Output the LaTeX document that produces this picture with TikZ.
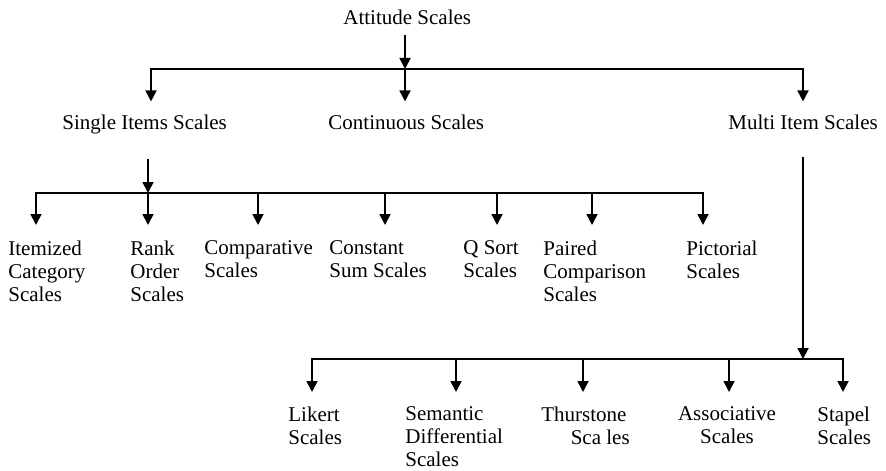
\documentclass[tikz,border=0pt]{standalone}
\usepackage{fontspec}
\setmainfont{Liberation Serif}
\usetikzlibrary{arrows.meta}
\begin{document}
\begin{tikzpicture}[x=0.5pt,y=-0.5pt,
  lbl/.style={inner sep=0pt, align=left,
    font=\fontsize{10.5pt}{11.6pt}\selectfont},
  top/.style={lbl, outer ysep=5pt},
  mid/.style={lbl, outer ysep=7pt},
  low/.style={lbl, outer ysep=7.8pt, anchor=north west},
  leaf/.style={lbl, outer ysep=7.3pt, anchor=north west},
  link/.style={line width=0.9pt},
  arr/.style={link, -{Triangle[length=5.5pt,width=5.5pt]}}]
\useasboundingbox (0,0) rectangle (886,470);

% root
\node[top, anchor=base west] (att) at (343,25) {Attitude Scales};

% second level
\node[mid, anchor=base west] (single) at (62,130) {Single Items Scales};
\node[mid, anchor=base west] (cont) at (328,130) {Continuous Scales};
\node[mid, anchor=base west] (multi) at (728,130) {Multi Item Scales};

% single item scales
\node[low] (item) at (8,225) {Itemized\\Category\\Scales};
\node[low] (rank) at (130,225) {Rank\\Order\\Scales};
\node[low] (comp) at (204,225) {Comparative\\Scales};
\node[low] (const) at (329,225) {Constant\\Sum Scales};
\node[low] (qsort) at (463,225) {Q Sort\\Scales};
\node[low] (paired) at (543,225) {Paired\\Comparison\\Scales};
\node[low] (pict) at (686,225) {Pictorial\\Scales};

% multi item scales
\node[leaf] (likert) at (288,392) {Likert\\Scales};
\node[leaf] (sem) at (405,392) {Semantic\\Differential\\Scales};
\node[leaf] (thur) at (541,392) {Thurstone\\\hspace*{1.4em}Sca les};
\node[leaf, anchor=north, align=center] (assoc) at (727,392) {Associative\\Scales};
\node[leaf] (stapel) at (817,392) {Stapel\\Scales};

% bus points
\coordinate (j0) at (405,69);
\coordinate (b0l) at (151,69);
\coordinate (b0r) at (803,69);

\coordinate (j1) at (148,193);
\coordinate (q1) at (36,193);
\coordinate (q3) at (258,193);
\coordinate (q4) at (385,193);
\coordinate (q5) at (497,193);
\coordinate (q6) at (592,193);
\coordinate (q7) at (703,193);

\coordinate (j2) at (803,359);
\coordinate (r1) at (312,359);
\coordinate (r2) at (456,359);
\coordinate (r3) at (583,359);
\coordinate (r4) at (729,359);
\coordinate (r5) at (843,359);

% root to second level
\draw[arr] (att.south -| j0) -- (j0);
\draw[arr] (j0) -- (b0l) -- (b0l |- single.north);
\draw[arr] (j0) -- (b0r) -- (b0r |- multi.north);
\draw[arr] (j0) -- (j0 |- cont.north);

% single item branch
\draw[arr, shorten <=5pt] (single.south -| j1) -- (j1);
\draw[arr] (j1) -- (q1) -- (q1 |- item.north);
\draw[arr] (j1) -- (q7) -- (q7 |- pict.north);
\draw[arr] (j1) -- (j1 |- rank.north);
\draw[arr] (q3) -- (q3 |- comp.north);
\draw[arr] (q4) -- (q4 |- const.north);
\draw[arr] (q5) -- (q5 |- qsort.north);
\draw[arr] (q6) -- (q6 |- paired.north);

% multi item branch
\draw[arr, shorten <=6.5pt] (multi.south -| j2) -- (j2);
\draw[arr] (j2) -- (r1) -- (r1 |- likert.north);
\draw[arr] (j2) -- (r5) -- (r5 |- stapel.north);
\draw[arr] (r2) -- (r2 |- sem.north);
\draw[arr] (r3) -- (r3 |- thur.north);
\draw[arr] (r4) -- (r4 |- assoc.north);
\end{tikzpicture}
\end{document}
